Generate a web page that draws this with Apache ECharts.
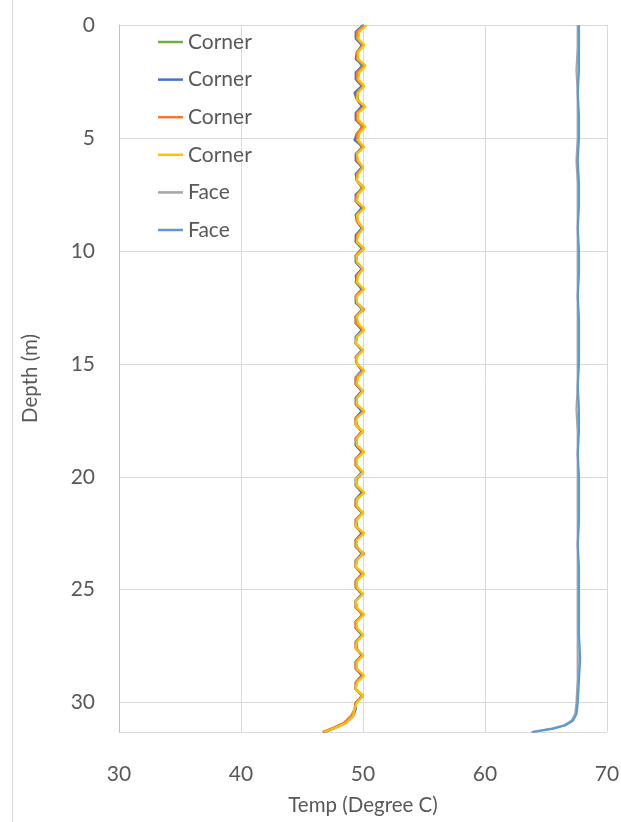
<!DOCTYPE html>
<html>
<head>
<meta charset="utf-8">
<script src="https://cdn.jsdelivr.net/npm/echarts@6/dist/echarts.min.js"></script>
<style>
html,body{margin:0;padding:0;background:#fff;}
#chart{width:621px;height:822px;}
</style>
</head>
<body>
<div id="chart"></div>
<script>
// Depth (m) for corner series (every 0.3 m, plus bottom tail points)
const cornerDepth = [0,0.3,0.6,0.9,1.2,1.5,1.8,2.1,2.4,2.7,3,3.3,3.6,3.9,4.2,4.5,4.8,5.1,5.4,5.7,6,6.3,6.6,6.9,7.2,7.5,7.8,8.1,8.4,8.7,9,9.3,9.6,9.9,10.2,10.5,10.8,11.1,11.4,11.7,12,12.3,12.6,12.9,13.2,13.5,13.8,14.1,14.4,14.7,15,15.3,15.6,15.9,16.2,16.5,16.8,17.1,17.4,17.7,18,18.3,18.6,18.9,19.2,19.5,19.8,20.1,20.4,20.7,21,21.3,21.6,21.9,22.2,22.5,22.8,23.1,23.4,23.7,24,24.3,24.6,24.9,25.2,25.5,25.8,26.1,26.4,26.7,27,27.3,27.6,27.9,28.2,28.5,28.8,29.1,29.4,29.7,30,30.3,30.6,30.9,31.1,31.3];

// Temperatures (Degree C)
const corner1 = [50.1,49.5,49.5,49.9,49.6,49.5,49.9,49.5,49.5,49.9,49.5,49.6,50.0,49.5,49.5,49.9,49.6,49.5,49.9,49.5,49.5,50.0,49.5,49.5,49.9,49.5,49.5,49.9,49.5,49.6,49.9,49.5,49.4,50.1,49.5,49.5,49.9,49.5,49.4,49.9,49.5,49.5,49.9,49.4,49.5,49.9,49.5,49.4,49.9,49.5,49.5,50.0,49.5,49.4,49.9,49.5,49.5,49.9,49.4,49.5,49.9,49.5,49.4,49.9,49.5,49.5,49.9,49.4,49.5,50.0,49.5,49.4,49.9,49.5,49.5,49.9,49.4,49.5,49.9,49.5,49.4,49.9,49.5,49.5,49.9,49.4,49.5,49.9,49.5,49.4,49.9,49.5,49.5,49.9,49.4,49.5,49.9,49.5,49.4,49.9,49.4,49.3,49.1,48.5,47.7,46.7];
const corner2 = [50.0,49.4,49.4,49.9,49.5,49.4,50.0,49.4,49.4,49.9,49.3,49.5,49.9,49.4,49.4,50.0,49.5,49.3,50.0,49.4,49.4,49.9,49.4,49.5,50.1,49.4,49.4,49.9,49.4,49.5,49.9,49.4,49.4,49.9,49.4,49.4,49.9,49.4,49.5,49.9,49.4,49.4,50.0,49.4,49.4,49.9,49.4,49.4,49.9,49.4,49.5,49.9,49.4,49.4,49.9,49.4,49.4,49.9,49.4,49.4,49.9,49.4,49.4,49.9,49.4,49.4,49.9,49.4,49.4,49.9,49.4,49.4,50.0,49.4,49.4,49.9,49.4,49.4,49.9,49.4,49.4,49.9,49.4,49.4,49.9,49.4,49.4,50.0,49.4,49.4,49.9,49.4,49.4,49.9,49.4,49.4,49.9,49.4,49.4,50.0,49.4,49.4,49.2,48.6,47.8,46.9];
const corner3 = [50.1,49.5,49.5,50.0,49.5,49.5,50.1,49.5,49.5,50.0,49.5,49.5,50.1,49.5,49.5,50.0,49.5,49.5,50.0,49.5,49.5,50.0,49.5,49.5,50.0,49.5,49.4,50.1,49.5,49.5,50.0,49.5,49.5,50.0,49.4,49.5,50.0,49.5,49.5,50.0,49.4,49.5,50.1,49.4,49.4,50.0,49.5,49.4,50.0,49.4,49.5,50.0,49.4,49.4,50.0,49.5,49.4,50.1,49.4,49.4,50.0,49.4,49.5,50.0,49.4,49.4,50.0,49.5,49.4,50.1,49.4,49.4,50.0,49.4,49.4,50.0,49.4,49.4,50.1,49.4,49.4,50.0,49.4,49.4,50.0,49.4,49.4,50.0,49.4,49.4,50.0,49.4,49.4,50.0,49.4,49.4,50.0,49.4,49.4,50.0,49.4,49.3,49.0,48.4,47.6,46.7];
const corner4 = [50.3,49.7,49.6,50.1,49.6,49.6,50.2,49.7,49.6,50.1,49.6,49.5,50.2,49.6,49.6,50.2,49.7,49.6,50.1,49.5,49.6,50.0,49.6,49.5,50.1,49.6,49.5,50.1,49.5,49.6,50.0,49.6,49.5,50.1,49.5,49.5,50.0,49.6,49.5,50.1,49.5,49.5,50.0,49.5,49.6,50.1,49.5,49.4,50.0,49.5,49.5,50.1,49.6,49.5,50.0,49.5,49.5,50.1,49.5,49.4,50.0,49.5,49.5,50.1,49.5,49.5,50.0,49.4,49.5,50.1,49.5,49.5,50.0,49.5,49.4,50.1,49.5,49.5,50.0,49.5,49.4,50.1,49.5,49.5,50.0,49.4,49.5,50.1,49.5,49.5,50.0,49.5,49.4,50.0,49.5,49.5,50.1,49.5,49.4,50.0,49.5,49.3,49.2,48.6,47.8,46.8];

// Depth (m) for face series
const faceDepth = [0,1,2,3,4,5,6,7,8,9,10,11,12,13,14,15,16,17,18,19,20,21,22,23,24,25,26,27,28,29,30,30.5,30.8,31.0,31.15,31.3];
const face1 = [67.6,67.6,67.5,67.6,67.6,67.6,67.5,67.6,67.6,67.6,67.6,67.6,67.6,67.6,67.6,67.6,67.6,67.5,67.6,67.6,67.6,67.6,67.6,67.6,67.6,67.6,67.6,67.6,67.6,67.6,67.5,67.4,67.1,66.5,65.5,63.8];
const face2 = [67.7,67.7,67.7,67.6,67.7,67.7,67.6,67.7,67.7,67.6,67.7,67.7,67.6,67.7,67.7,67.7,67.6,67.7,67.7,67.6,67.7,67.7,67.7,67.6,67.7,67.7,67.7,67.7,67.8,67.7,67.6,67.5,67.2,66.6,65.6,63.9];

// Axis ticks
const xTicks = {min: 30, max: 70, interval: 10};
const yTicks = {min: 0, max: 31.3, interval: 5};

const names = ['Corner', 'Corner', 'Corner', 'Corner', 'Face', 'Face'];
const colors = ['#70AD47', '#4472C4', '#ED7D31', '#FFC000', '#A5A5A5', '#5B9BD5'];
const seriesData = [
  [corner1, cornerDepth], [corner2, cornerDepth], [corner3, cornerDepth], [corner4, cornerDepth],
  [face1, faceDepth], [face2, faceDepth]
];

const FONT = 'Lato';
const TXT = '#595959';

const chart = echarts.init(document.getElementById('chart'), null, {renderer: 'canvas'});
const series = seriesData.map((sd, i) => ({
  name: names[i] + '#' + i,
  type: 'line',
  data: sd[0].map((t, j) => [t, sd[1][j]]),
  showSymbol: false,
  symbol: 'none',
  smooth: false,
  lineStyle: {color: colors[i], width: 2.25},
  itemStyle: {color: colors[i]},
  z: 2 + i,
  animation: false
}));

chart.setOption({
  backgroundColor: '#ffffff',
  animation: false,
  grid: {left: 119, right: 14, top: 25, bottom: 90, containLabel: false, outerBoundsMode: 'none'},
  legend: {
    orient: 'vertical',
    left: 158,
    top: 30,
    padding: 0,
    itemWidth: 25,
    itemHeight: 2.5,
    itemGap: 13.6,
    icon: 'rect',
    data: series.map(s => s.name),
    formatter: n => n.split('#')[0],
    textStyle: {fontFamily: FONT, fontSize: 21, color: TXT, lineHeight: 24},
    selectedMode: false
  },
  xAxis: {
    type: 'value',
    min: xTicks.min, max: xTicks.max, interval: xTicks.interval,
    name: 'Temp (Degree C)',
    nameLocation: 'middle',
    nameGap: 63,
    nameTextStyle: {fontFamily: FONT, fontSize: 20.5, color: TXT},
    axisLine: {show: false},
    axisTick: {show: false},
    axisLabel: {fontFamily: FONT, fontSize: 21, color: TXT, margin: 32},
    splitLine: {show: true, lineStyle: {color: '#D9D9D9', width: 1}}
  },
  yAxis: {
    type: 'value',
    inverse: true,
    min: yTicks.min, max: yTicks.max, interval: yTicks.interval,
    name: 'Depth (m)',
    nameLocation: 'middle',
    nameGap: 78,
    nameRotate: 90,
    nameTextStyle: {fontFamily: FONT, fontSize: 20.5, color: TXT},
    axisLine: {show: true, lineStyle: {color: '#BFBFBF', width: 1}},
    axisTick: {show: false},
    axisLabel: {fontFamily: FONT, fontSize: 21, color: TXT, margin: 24, showMaxLabel: false},
    splitLine: {show: true, lineStyle: {color: '#D9D9D9', width: 1}}
  },
  graphic: [{
    type: 'line',
    shape: {x1: 12.5, y1: 0, x2: 12.5, y2: 822},
    style: {stroke: '#D9D9D9', lineWidth: 1},
    silent: true
  }],
  series: series
});
</script>
</body>
</html>
